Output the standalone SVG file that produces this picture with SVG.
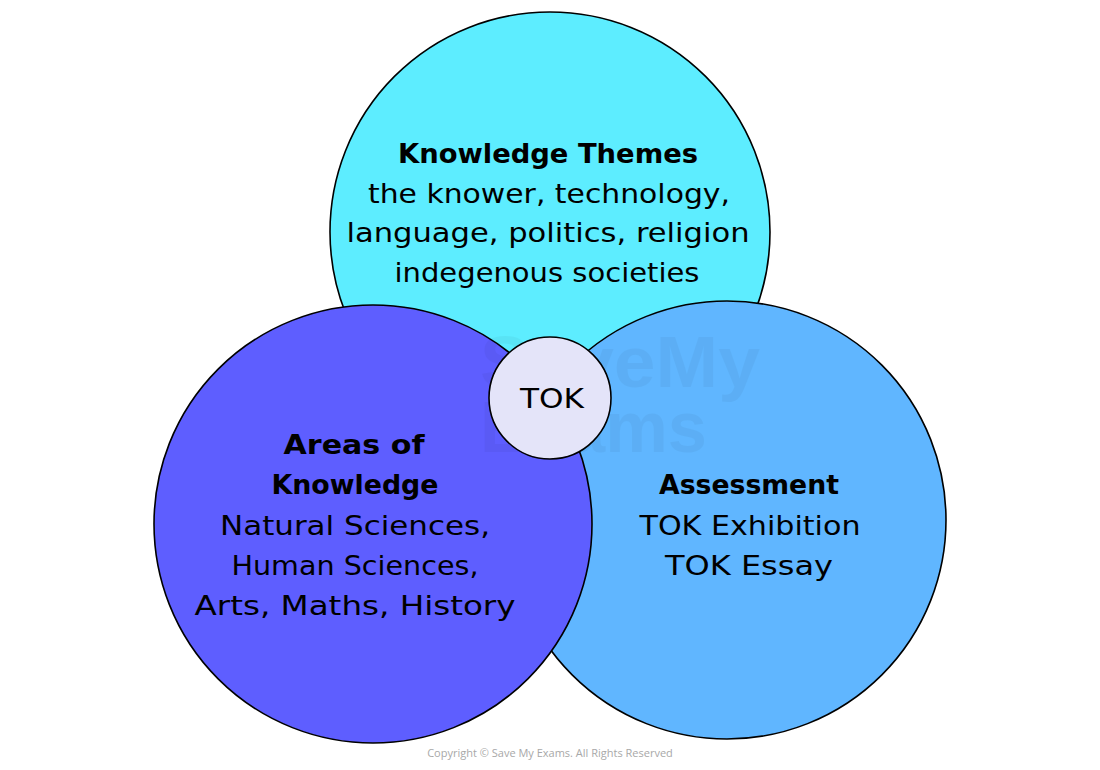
<svg xmlns="http://www.w3.org/2000/svg" width="1100" height="770" viewBox="0 0 1100 770">
<style>
.c{stroke:#000;stroke-width:1.6}
.t{font-family:"DejaVu Sans","Noto Sans",sans-serif;font-size:27px;fill:#000;text-anchor:middle}
.b{font-weight:bold}
.wm{font-family:"Liberation Sans",Arial,sans-serif;font-weight:bold;font-size:72px;fill:#000;opacity:0.035}
.cp{font-family:"Open Sans","Liberation Sans",sans-serif;font-size:11px;fill:#a8a8a8;text-anchor:middle}
</style>
<rect width="1100" height="770" fill="#fff"/>
<g id="themes">
<circle class="c" cx="550" cy="232" r="220" fill="#5DEDFF"/>
</g>
<g id="assessment">
<circle class="c" cx="727" cy="520" r="219" fill="#60B6FF"/>
</g>
<g id="areas">
<circle class="c" cx="373" cy="524" r="219" fill="#5E5EFF"/>
</g>
<g id="watermark">
<text class="wm" x="480" y="387" textLength="280" lengthAdjust="spacingAndGlyphs">SaveMy</text>
<text class="wm" x="480" y="452" textLength="227" lengthAdjust="spacingAndGlyphs">Exams</text>
</g>
<g id="tok">
<circle class="c" cx="550" cy="398" r="61" fill="#E4E4F9"/>
<text class="t" x="552" y="408" font-size="29" textLength="64" lengthAdjust="spacingAndGlyphs">TOK</text>
</g>
<g id="themes-text">
<text class="t b" x="548" y="163" textLength="300" lengthAdjust="spacingAndGlyphs">Knowledge Themes</text>
<text class="t" x="549" y="203" textLength="362" lengthAdjust="spacingAndGlyphs">the knower, technology,</text>
<text class="t" x="548" y="242" textLength="403" lengthAdjust="spacingAndGlyphs">language, politics, religion</text>
<text class="t" x="547" y="282" textLength="305" lengthAdjust="spacingAndGlyphs">indegenous societies</text>
</g>
<g id="areas-text">
<text class="t b" x="354" y="454" textLength="141" lengthAdjust="spacingAndGlyphs">Areas of</text>
<text class="t b" x="355" y="494" textLength="167" lengthAdjust="spacingAndGlyphs">Knowledge</text>
<text class="t" x="355" y="535" textLength="270" lengthAdjust="spacingAndGlyphs">Natural Sciences,</text>
<text class="t" x="355" y="575" textLength="247" lengthAdjust="spacingAndGlyphs">Human Sciences,</text>
<text class="t" x="355" y="615" textLength="321" lengthAdjust="spacingAndGlyphs">Arts, Maths, History</text>
</g>
<g id="assessment-text">
<text class="t b" x="749" y="494" textLength="180" lengthAdjust="spacingAndGlyphs">Assessment</text>
<text class="t" x="750" y="535" textLength="221" lengthAdjust="spacingAndGlyphs">TOK Exhibition</text>
<text class="t" x="749" y="575" textLength="168" lengthAdjust="spacingAndGlyphs">TOK Essay</text>
</g>
<g id="connectors"></g>
<text class="cp" x="550" y="757">Copyright © Save My Exams. All Rights Reserved</text>
</svg>
